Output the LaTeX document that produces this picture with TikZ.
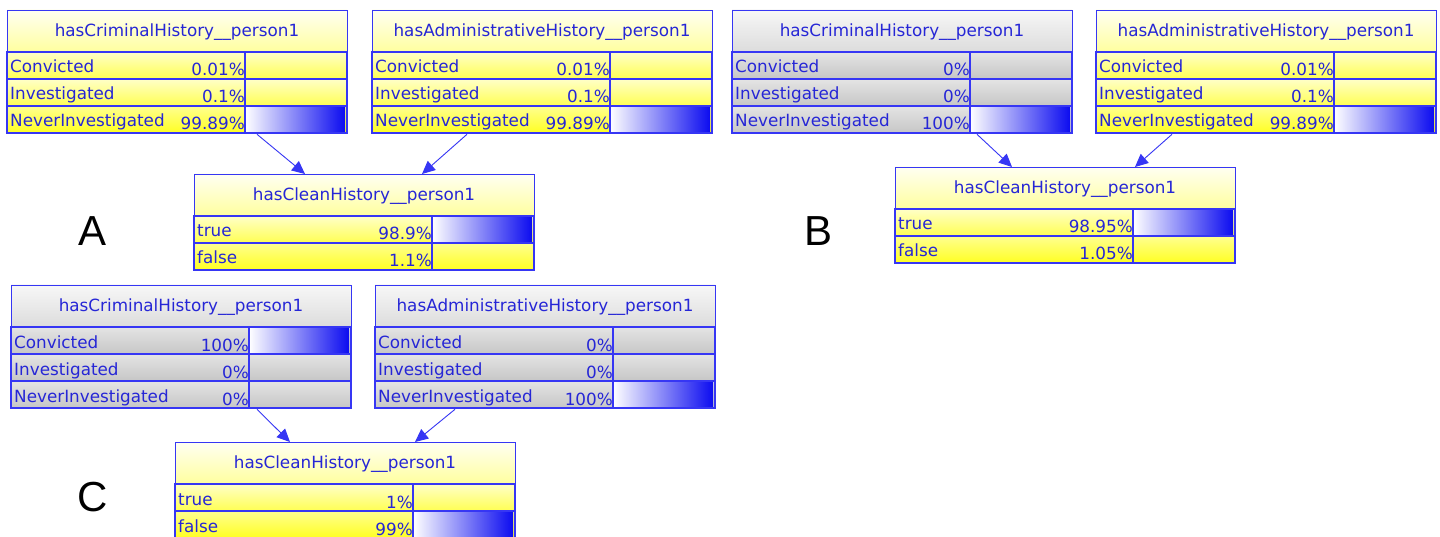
\documentclass[tikz,border=0pt]{standalone}
\usepackage{fontspec}
\setmainfont{DejaVu Sans}
\newfontfamily\lettfont{Liberation Sans}
\usetikzlibrary{arrows.meta,calc}
\definecolor{bnblue}{HTML}{3636F4}
\definecolor{bntext}{HTML}{2626D6}
\definecolor{barblue}{HTML}{0C0CF0}
\definecolor{yt1}{HTML}{FFFFF2}
\definecolor{yt2}{HTML}{FFFF9E}
\definecolor{yr1}{HTML}{FFFFC8}
\definecolor{yr2}{HTML}{FFFF52}
\definecolor{ys1}{HTML}{FFFF90}
\definecolor{ys2}{HTML}{FFFF22}
\definecolor{gt1}{HTML}{F7F7F7}
\definecolor{gt2}{HTML}{DCDCDC}
\definecolor{gr1}{HTML}{E4E4E4}
\definecolor{gr2}{HTML}{C6C6C6}
\tikzset{
  ytitle/.style={top color=yt1,bottom color=yt2},
  yrown/.style={top color=yr1,bottom color=yr2},
  yrows/.style={top color=ys1,bottom color=ys2},
  gtitle/.style={top color=gt1,bottom color=gt2},
  grown/.style={top color=gr1,bottom color=gr2},
  grows/.style={top color=gr1,bottom color=gr2},
  bnline/.style={draw=bnblue,line width=1.2pt},
  bnframe/.style={draw=bnblue,line width=1.3pt,inner sep=0pt,anchor=north west},
  bntxt/.style={text=bntext,font=\fontsize{16.8}{18}\selectfont,inner sep=0pt},
  bnarrow/.style={draw=bnblue,line width=0.9pt,-{Triangle[length=13pt,width=12pt]}},
  panel/.style={font=\lettfont\fontsize{42}{44}\selectfont,text=black,inner sep=0pt},
}
% #1 name, #2 x, #3 y, #4 width, #5 split, #6 title, #7 kind (y/g), #8 rows, #9 number of rows
\newcommand\bnnode[9]{%
  \path[#7title] (#2,#3) rectangle ++(#4,42);
  \node[bntxt] at ($(#2,#3)+(#4/2,22)$) {#6};
  \foreach \lab/\pct/\bar/\st [count=\i] in {#8} {
    \pgfmathsetmacro\ry{#3+42+(\i-1)*27}
    \path[#7row\st] (#2,\ry) rectangle ++(#4,27);
    \ifnum\bar=1
      \fill[left color=white,right color=barblue] ($(#2,\ry)+(#5,1)$) rectangle ($(#2,\ry)+(#4-2,26)$);
    \fi
    \draw[bnline] (#2,\ry) rectangle ++(#4,27);
    \draw[bnline] ($(#2,\ry)+(#5,0)$) -- ++(0,27);
    \node[bntxt,anchor=base west] at ($(#2,\ry)+(3,21)$) {\lab};
    \node[bntxt,anchor=base east] at ($(#2,\ry)+(#5,24)$) {\pct};
  }
  \node[bnframe,minimum width=#4pt,minimum height={42pt+#9*27pt}] (#1) at (#2,#3) {};
}
\begin{document}
\begin{tikzpicture}[x=1pt,y=-1pt]
\useasboundingbox[fill=white] (0,0) rectangle (1440,537);
% Panel A
\bnnode{crimA}{7}{10}{340}{238}{hasCriminalHistory\_\_person1}{y}{Convicted/0.01\%/0/n,Investigated/0.1\%/0/n,NeverInvestigated/99.89\%/1/s}{3}
\bnnode{adminA}{372}{10}{340}{238}{hasAdministrativeHistory\_\_person1}{y}{Convicted/0.01\%/0/n,Investigated/0.1\%/0/n,NeverInvestigated/99.89\%/1/s}{3}
\bnnode{cleanA}{194}{174}{340}{238}{hasCleanHistory\_\_person1}{y}{true/98.9\%/1/n,false/1.1\%/0/s}{2}
\draw[bnarrow] ($(crimA.south west)+(250,0)$) -- ($(cleanA.north west)+(111,0)$);
\draw[bnarrow] ($(adminA.south west)+(95,0)$) -- ($(cleanA.north west)+(228,0)$);
\node[panel] (labA) at (93,231) {A};
% Panel B
\bnnode{crimB}{732}{10}{340}{238}{hasCriminalHistory\_\_person1}{g}{Convicted/0\%/0/n,Investigated/0\%/0/n,NeverInvestigated/100\%/1/s}{3}
\bnnode{adminB}{1096}{10}{340}{238}{hasAdministrativeHistory\_\_person1}{y}{Convicted/0.01\%/0/n,Investigated/0.1\%/0/n,NeverInvestigated/99.89\%/1/s}{3}
\bnnode{cleanB}{895}{167}{340}{238}{hasCleanHistory\_\_person1}{y}{true/98.95\%/1/n,false/1.05\%/0/s}{2}
\draw[bnarrow] ($(crimB.south west)+(245,0)$) -- ($(cleanB.north west)+(117,0)$);
\draw[bnarrow] ($(adminB.south west)+(76,0)$) -- ($(cleanB.north west)+(240,0)$);
\node[panel] (labB) at (818,231) {B};
% Panel C
\bnnode{crimC}{11}{285}{340}{238}{hasCriminalHistory\_\_person1}{g}{Convicted/100\%/1/n,Investigated/0\%/0/n,NeverInvestigated/0\%/0/s}{3}
\bnnode{adminC}{375}{285}{340}{238}{hasAdministrativeHistory\_\_person1}{g}{Convicted/0\%/0/n,Investigated/0\%/0/n,NeverInvestigated/100\%/1/s}{3}
\bnnode{cleanC}{175}{442}{340}{238}{hasCleanHistory\_\_person1}{y}{true/1\%/0/n,false/99\%/1/s}{2}
\draw[bnarrow] ($(crimC.south west)+(246,0)$) -- ($(cleanC.north west)+(115,0)$);
\draw[bnarrow] ($(adminC.south west)+(80,0)$) -- ($(cleanC.north west)+(240,0)$);
\node[panel] (labC) at (93,497) {C};
\end{tikzpicture}
\end{document}
